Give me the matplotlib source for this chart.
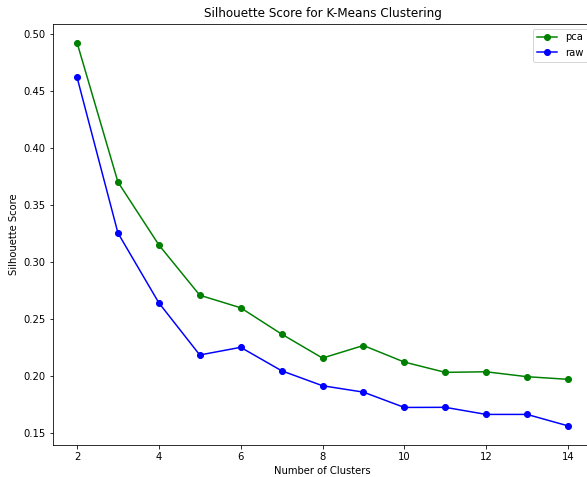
import matplotlib
matplotlib.use("Agg")
import matplotlib.pyplot as plt

# ------------------------
# Data
# ------------------------
n_clusters = [2, 3, 4, 5, 6, 7, 8, 9, 10, 11, 12, 13, 14]
pca_scores = [0.492, 0.370, 0.315, 0.271, 0.260, 0.237, 0.216, 0.227,
              0.2125, 0.2035, 0.204, 0.1997, 0.1974]
raw_scores = [0.4617, 0.3254, 0.2643, 0.2187, 0.2254, 0.2049, 0.1918, 0.1862,
              0.1728, 0.1729, 0.1667, 0.1667, 0.1567]

# ------------------------
# Plot
# ------------------------
fig = plt.figure(figsize=(587 / 72, 477 / 72), dpi=72)
# axes runs slightly past the right edge, like the cropped original
ax = fig.add_axes([52.5 / 587, 32 / 477, 540 / 587, 421.5 / 477])

ax.plot(n_clusters, pca_scores, marker="o", color="green", label="pca")
ax.plot(n_clusters, raw_scores, marker="o", color="blue", label="raw")

ax.set_title("Silhouette Score for K-Means Clustering", fontsize=12)
ax.set_xlabel("Number of Clusters")
ax.set_ylabel("Silhouette Score")
ax.legend(loc="upper right")

fig.savefig("out.png", dpi=72)
plt.close(fig)
